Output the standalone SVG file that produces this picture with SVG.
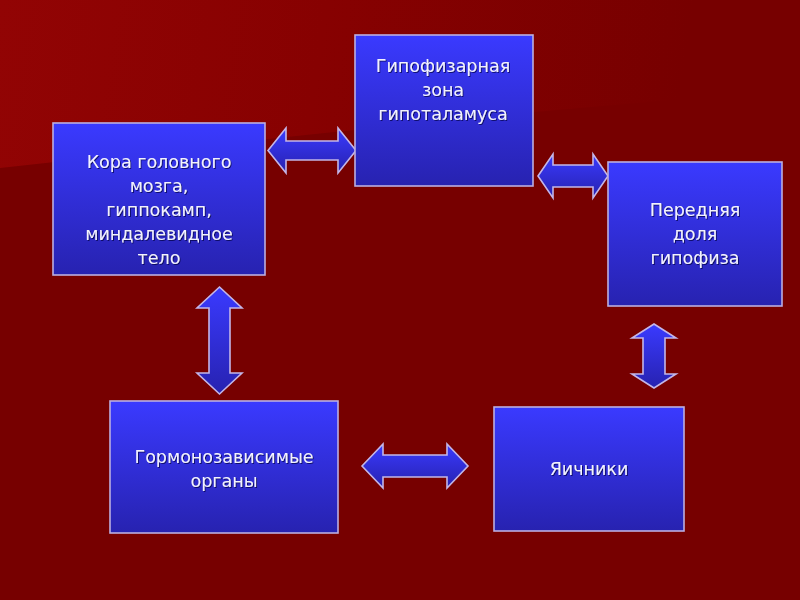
<svg xmlns="http://www.w3.org/2000/svg" width="800" height="600" viewBox="0 0 800 600">
  <defs>
    <linearGradient id="bgLight" x1="0" y1="0" x2="800" y2="120" gradientUnits="userSpaceOnUse">
      <stop offset="0" stop-color="#920404"/>
      <stop offset="0.4" stop-color="#870101"/>
      <stop offset="0.85" stop-color="#770000"/>
    </linearGradient>
    <linearGradient id="blue" x1="0" y1="0" x2="0" y2="1">
      <stop offset="0" stop-color="#3a3aff"/>
      <stop offset="1" stop-color="#2722b0"/>
    </linearGradient>
    <filter id="shadow" x="-10%" y="-20%" width="120%" height="140%">
      <feDropShadow dx="1" dy="1" stdDeviation="0.6" flood-color="#000040" flood-opacity="0.7"/>
    </filter>
  </defs>
  <style>
    .box { fill: url(#blue); stroke: #bcaee0; stroke-width: 1.6; }
    .arrow { fill: url(#blue); stroke: #c4b6e8; stroke-width: 1.6; stroke-linejoin: miter; }
    .lbl { font-family: "DejaVu Sans", "Noto Sans", sans-serif; font-size: 17.5px; fill: #f2f2ff; text-anchor: middle; filter: url(#shadow); }
  </style>

  <rect x="0" y="0" width="800" height="600" fill="#770000"/>
  <path d="M0,0 H800 V90 C520,110 260,140 0,168 Z" fill="url(#bgLight)"/>

  <g id="connectors">
    <polygon class="arrow" points="268,150.5 286,128 286,141 338,141 338,128 356,150.5 338,173 338,160 286,160 286,173"/>
    <polygon class="arrow" points="538,176 553,154 553,165 593,165 593,154 608,176 593,198 593,187 553,187 553,198"/>
    <polygon class="arrow" points="654,324 676,338 665,338 665,374 676,374 654,388 632,374 643,374 643,338 632,338"/>
    <polygon class="arrow" points="219.5,287 242,308 230,308 230,373 242,373 219.5,394 197,373 209,373 209,308 197,308"/>
    <polygon class="arrow" points="362,466 383,444 383,455 447,455 447,444 468,466 447,488 447,477 383,477 383,488"/>
  </g>

  <g id="node-cortex">
    <rect class="box" x="53" y="123" width="212" height="152"/>
    <text class="lbl" x="159" y="168">Кора головного</text>
    <text class="lbl" x="159" y="192">мозга,</text>
    <text class="lbl" x="159" y="216">гиппокамп,</text>
    <text class="lbl" x="159" y="240">миндалевидное</text>
    <text class="lbl" x="159" y="264">тело</text>
  </g>

  <g id="node-hypothalamus">
    <rect class="box" x="355" y="35" width="178" height="151"/>
    <text class="lbl" x="443" y="72">Гипофизарная</text>
    <text class="lbl" x="443" y="96">зона</text>
    <text class="lbl" x="443" y="120">гипоталамуса</text>
  </g>

  <g id="node-pituitary">
    <rect class="box" x="608" y="162" width="174" height="144"/>
    <text class="lbl" x="695" y="216">Передняя</text>
    <text class="lbl" x="695" y="240">доля</text>
    <text class="lbl" x="695" y="264">гипофиза</text>
  </g>

  <g id="node-organs">
    <rect class="box" x="110" y="401" width="228" height="132"/>
    <text class="lbl" x="224" y="463">Гормонозависимые</text>
    <text class="lbl" x="224" y="487">органы</text>
  </g>

  <g id="node-ovaries">
    <rect class="box" x="494" y="407" width="190" height="124"/>
    <text class="lbl" x="589" y="475">Яичники</text>
  </g>
</svg>
